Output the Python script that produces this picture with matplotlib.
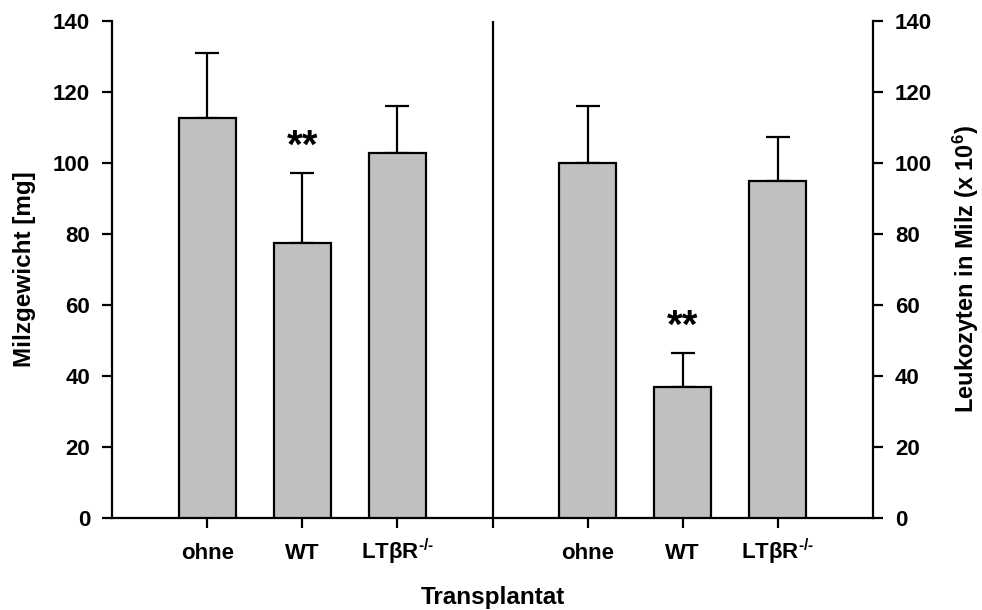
import matplotlib
matplotlib.use("Agg")
import matplotlib.pyplot as plt

plt.rcParams['font.family'] = ['Liberation Sans', 'DejaVu Sans']
plt.rcParams['font.weight'] = 'bold'
plt.rcParams['mathtext.fontset'] = 'custom'
plt.rcParams['mathtext.rm'] = 'Liberation Sans:bold'
plt.rcParams['mathtext.it'] = 'Liberation Sans:bold'
plt.rcParams['mathtext.bf'] = 'Liberation Sans:bold'
plt.rcParams['mathtext.sf'] = 'Liberation Sans:bold'
plt.rcParams['mathtext.default'] = 'rm'

# ---- data ----
categories = ["ohne", "WT", "LTβR$^{\\text{-/-}}$"]
milz_mean = [112.6, 77.4, 102.9]
milz_err = [18.3, 19.7, 13.2]
leuko_mean = [99.9, 36.8, 95.0]
leuko_err = [16.1, 9.6, 12.3]
left_pos = [1, 2, 3]
right_pos = [5, 6, 7]
divider_pos = 4
sig_left = {"WT": "**"}
sig_right = {"WT": "**"}
yticks = [0, 20, 40, 60, 80, 100, 120, 140]

W, H = 982, 610
fig = plt.figure(figsize=(W / 100, H / 100), dpi=100)
ax = fig.add_axes([112 / W, 1 - 518 / H, (873 - 112) / W, (518 - 21) / H])
ax2 = ax.twinx()

bar_kw = dict(width=0.6, color="#c0c0c0", edgecolor="black", linewidth=1.6, zorder=3)
err_kw = dict(fmt="none", ecolor="black", elinewidth=1.6, capsize=8.6, capthick=1.6, zorder=2)

ax.bar(left_pos, milz_mean, **bar_kw)
ax.errorbar(left_pos, milz_mean, yerr=[[0] * 3, milz_err], **err_kw)
ax2.bar(right_pos, leuko_mean, **bar_kw)
ax2.errorbar(right_pos, leuko_mean, yerr=[[0] * 3, leuko_err], **err_kw)

for ax_, pos, means, errs, sig in [(ax, left_pos, milz_mean, milz_err, sig_left),
                                   (ax2, right_pos, leuko_mean, leuko_err, sig_right)]:
    for p, c, m, e in zip(pos, categories, means, errs):
        if c in sig:
            ax_.text(p, m + e + 4.3, sig[c], ha="center", va="baseline",
                     fontsize=29, fontweight="bold")

for a in (ax, ax2):
    a.set_xlim(0, 8)
    a.set_ylim(0, 140)
    a.set_yticks(yticks)
    a.spines["top"].set_visible(False)
    for s in a.spines.values():
        s.set_linewidth(1.6)

ax.spines["right"].set_visible(False)
ax2.spines["left"].set_visible(False)
ax2.spines["bottom"].set_visible(False)

ax.axvline(divider_pos, color="black", linewidth=1.6, zorder=1)

xt = left_pos + [divider_pos] + right_pos
xl = categories + [""] + categories
ax.set_xticks(xt)
ax.set_xticklabels(xl)
ax.tick_params(axis="x", direction="out", length=7.2, width=1.6, labelsize=16, pad=22.3)
for lab in ax.get_xticklabels():
    lab.set_verticalalignment("baseline")
ax.tick_params(axis="y", direction="out", length=7.2, width=1.6, labelsize=16, pad=8.6)
ax2.tick_params(axis="y", direction="out", length=7.2, width=1.6, labelsize=16, pad=8.6)

ax.set_ylabel("Milzgewicht [mg]", fontsize=17.5, fontweight="bold")
ax.yaxis.label.set_rotation_mode("default")
ax.yaxis.label.set_verticalalignment("center")
ax.yaxis.set_label_coords((25 - 112) / 761, 0.5)

ax2.set_ylabel("Leukozyten in Milz (x 10$^{6}$)", fontsize=17, fontweight="bold")
ax2.yaxis.label.set_rotation(90)
ax2.yaxis.label.set_rotation_mode("default")
ax2.yaxis.label.set_verticalalignment("center")
ax2.yaxis.set_label_coords((966 - 112) / 761, 0.5)

ax.set_xlabel("Transplantat", fontsize=17.5, fontweight="bold")
ax.xaxis.label.set_verticalalignment("top")
ax.xaxis.set_label_coords(0.5, (518 - 586) / 497)

fig.savefig("out.png", dpi=100)
